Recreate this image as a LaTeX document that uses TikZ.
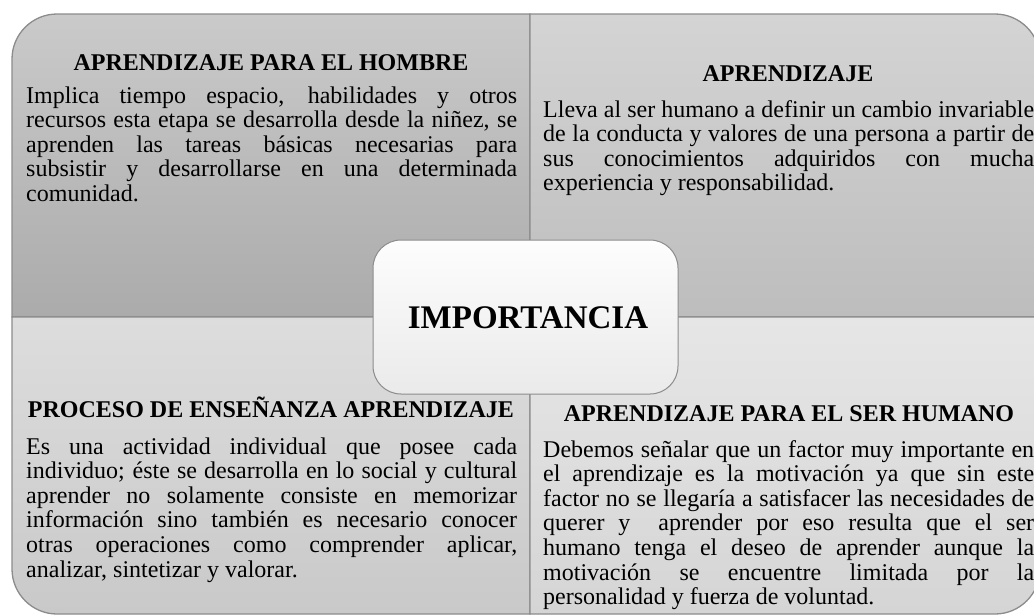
\documentclass[tikz,border=0pt]{standalone}
\usepackage{fontspec}
\setmainfont{Liberation Serif}
\definecolor{edge}{HTML}{8C8C8C}
\definecolor{tlTop}{HTML}{CACACA}
\definecolor{tlBot}{HTML}{ABABAB}
\definecolor{trTop}{HTML}{D4D4D4}
\definecolor{trBot}{HTML}{BDBDBD}
\definecolor{blTop}{HTML}{DDDDDD}
\definecolor{blBot}{HTML}{C9C9C9}
\definecolor{brTop}{HTML}{E6E6E6}
\definecolor{brBot}{HTML}{D5D5D5}
\definecolor{ctTop}{HTML}{FDFDFD}
\definecolor{ctBot}{HTML}{EAEAEA}
\hbadness=10000
\hfuzz=3pt
\tikzset{
  quad/.style={draw=edge, line width=1.3pt},
  head/.style={anchor=base, inner sep=0pt, font=\fontsize{24}{25}\selectfont\bfseries},
  body/.style={anchor=base west, inner sep=0pt, text width=491pt, align=justify,
     font=\fontsize{24}{24.6}\selectfont},
  center/.style={draw=edge, line width=1pt, rounded corners=28pt, top color=ctTop, bottom color=ctBot,
     minimum width=305pt, minimum height=154pt, inner sep=0pt},
}
\begin{document}
\begin{tikzpicture}[x=1pt,y=-1pt]
\useasboundingbox (0,0) rectangle (1034,614);
% top-left
\shade[top color=tlTop, bottom color=tlBot] (12,317) -- (12,59) .. controls (12,34.2) and (32.2,14) .. (57,14) -- (530,14) -- (530,317) -- cycle;
\draw[quad] (12,317) -- (12,59) .. controls (12,34.2) and (32.2,14) .. (57,14) -- (530,14) -- (530,317) -- cycle;
% top-right
\shade[top color=trTop, bottom color=trBot] (530,14) -- (995,14) .. controls (1019.8,14) and (1040,34.2) .. (1040,59) -- (1040,317) -- (530,317) -- cycle;
\draw[quad] (530,14) -- (995,14) .. controls (1019.8,14) and (1040,34.2) .. (1040,59) -- (1040,317) -- (530,317) -- cycle;
% bottom-left
\shade[top color=blTop, bottom color=blBot] (12,317) -- (530,317) -- (530,614) -- (57,614) .. controls (32.2,614) and (12,593.8) .. (12,569) -- cycle;
\draw[quad] (12,317) -- (530,317) -- (530,614) -- (57,614) .. controls (32.2,614) and (12,593.8) .. (12,569) -- cycle;
% bottom-right
\shade[top color=brTop, bottom color=brBot] (530,317) -- (1040,317) -- (1040,569) .. controls (1040,593.8) and (1019.8,614) .. (995,614) -- (530,614) -- cycle;
\draw[quad] (530,317) -- (1040,317) -- (1040,569) .. controls (1040,593.8) and (1019.8,614) .. (995,614) -- (530,614) -- cycle;

\node[head] (h1) at (271,70) {APRENDIZAJE PARA EL HOMBRE};
\node[body] (b1) at (26,103) {Implica tiempo espacio, habilidades y otros\linebreak recursos esta etapa se desarrolla desde la niñez, se\linebreak aprenden las tareas básicas necesarias para\linebreak subsistir y desarrollarse en una determinada\linebreak comunidad.};

\node[head] (h2) at (788,81) {APRENDIZAJE};
\node[body] (b2) at (543,117) {Lleva al ser humano a definir un cambio invariable\linebreak de la conducta y valores de una persona a partir de\linebreak sus conocimientos adquiridos con mucha\linebreak experiencia y responsabilidad.};

\node[head] (h3) at (271,417) {PROCESO DE ENSEÑANZA APRENDIZAJE};
\node[body] (b3) at (26,454) {Es una actividad individual que posee cada\linebreak individuo; éste se desarrolla en lo social y cultural\linebreak aprender no solamente consiste en memorizar\linebreak información sino también es necesario conocer\linebreak otras operaciones como comprender aplicar,\linebreak analizar, sintetizar y valorar.};

\node[head] (h4) at (789,421) {APRENDIZAJE PARA EL SER HUMANO};
\node[body] (b4) at (543,457) {Debemos señalar que un factor muy importante en\linebreak el aprendizaje es la motivación ya que sin este\linebreak factor no se llegaría a satisfacer las necesidades de\linebreak querer y ~aprender por eso resulta que el ser\linebreak humano tenga el deseo de aprender aunque la\linebreak motivación se encuentre limitada por la\linebreak personalidad y fuerza de voluntad.};

\node[center] (c) at (525.5,317) {};
\node[anchor=base, inner sep=0pt, font=\fontsize{33}{36}\selectfont\bfseries] (imp) at (528,328) {IMPORTANCIA};
\end{tikzpicture}
\end{document}
